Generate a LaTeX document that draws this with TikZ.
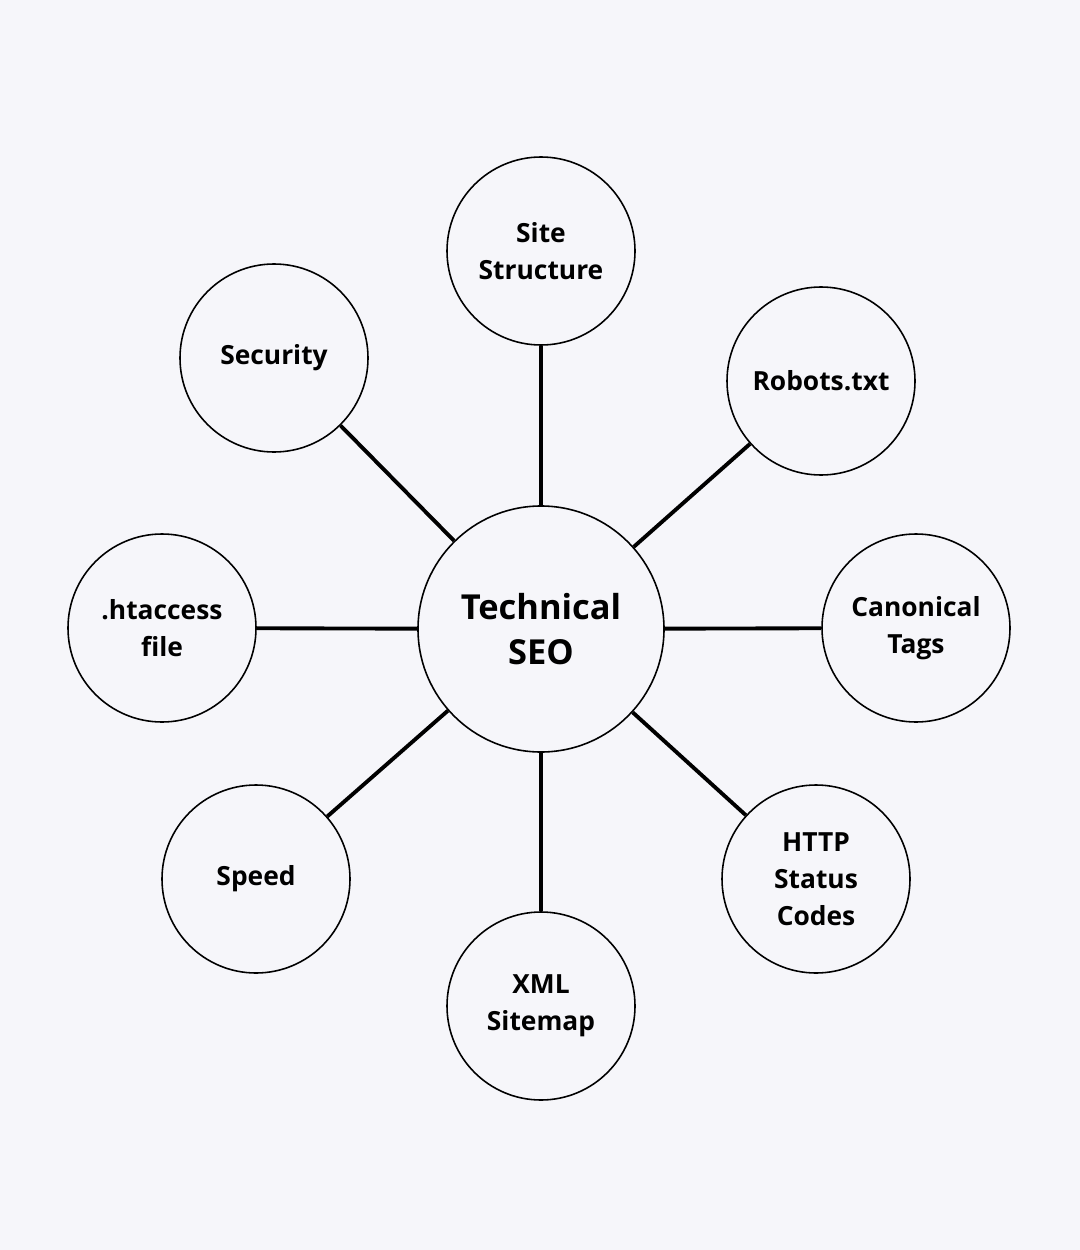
\documentclass[tikz,border=0pt]{standalone}
\usepackage{fontspec}
\setmainfont{Open Sans}
\usepackage{xcolor}
\definecolor{paperbg}{RGB}{246,246,250}

\begin{document}
\begin{tikzpicture}[
  hub/.style={circle,draw=black,line width=0.45pt,fill=paperbg,text=black,
    font=\fontsize{9.8pt}{13pt}\selectfont\bfseries,minimum size=2.46cm,
    inner sep=0pt,align=center},
  topic/.style={circle,draw=black,line width=0.45pt,fill=paperbg,text=black,
    font=\fontsize{7.5pt}{10.5pt}\selectfont\bfseries,minimum size=1.88cm,
    inner sep=0pt,align=center},
  spoke/.style={black,line width=1.1pt}
]
% canvas
\fill[paperbg] (0,0) rectangle (10.8,-12.5);
\useasboundingbox (0,0) rectangle (10.8,-12.5);

\node[hub] (tech) at (5.41,-6.29) {Technical\\SEO};

\node[topic] (site) at (5.41,-2.51) {Site\\Structure};
\node[topic] (robots) at (8.21,-3.81) {Robots.txt};
\node[topic] (canon) at (9.16,-6.28) {Canonical\\Tags};
\node[topic] (http) at (8.16,-8.79) {HTTP\\Status\\Codes};
\node[topic] (xml) at (5.41,-10.06) {XML\\Sitemap};
\node[topic] (speed) at (2.56,-8.79) {Speed};
\node[topic] (htaccess) at (1.62,-6.28) {.htaccess\\file};
\node[topic] (security) at (2.74,-3.58) {Security};

% spokes from the hub
\foreach \t in {site,robots,canon,http,xml,speed,htaccess,security}
  \draw[spoke] (tech) -- (\t);
\end{tikzpicture}
\end{document}
